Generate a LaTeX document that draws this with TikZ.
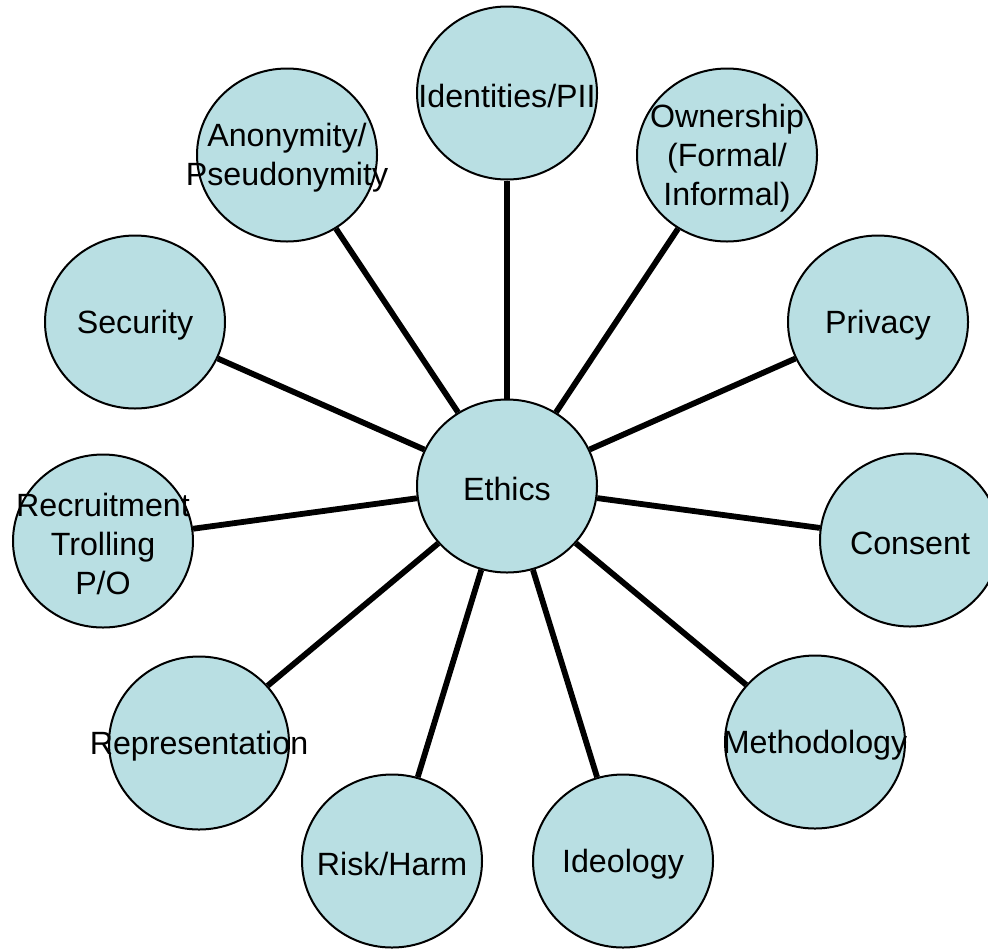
\documentclass[tikz,border=0pt]{standalone}
\usepackage{fontspec}
\setmainfont{Liberation Sans}
\usepackage{tikz}
\usetikzlibrary{shapes}

\definecolor{topicfill}{RGB}{185,223,227}

\begin{document}
\begin{tikzpicture}[x=0.5pt, y=-0.5pt,
		topic/.style={ellipse, draw, line width=1pt, fill=topicfill, minimum width=90pt, minimum height=86.5pt, inner sep=0pt},
		txt/.style={align=center, inner sep=0pt, yshift=-1.5pt, font=\fontsize{16.1}{19.4}\selectfont},
		spoke/.style={line width=2.9pt}]
	\useasboundingbox (0,0) rectangle (988,948);
	% hub
	\node[topic, label={[txt]center:Ethics}] (ethics) at (507,486) {};
	% topics, clockwise from the top
	\node[topic, label={[txt]center:Identities/PII}] (ident) at (507,93) {};
	\node[topic, label={[txt]center:{Ownership\\(Formal/\\Informal)}}] (owner) at (727,155) {};
	\node[topic, label={[txt]center:Privacy}] (priv) at (878,322) {};
	\node[topic, label={[txt]center:Consent}] (consent) at (910,540) {};
	\node[topic, label={[txt]center:Methodology}] (method) at (815,742) {};
	\node[topic, label={[txt]center:Ideology}] (ideo) at (623,861) {};
	\node[topic, label={[txt]center:Risk/Harm}] (risk) at (392,861) {};
	\node[topic, label={[txt]center:Representation}] (repr) at (199,743) {};
	\node[topic, label={[txt]center:{Recruitment\\Trolling\\P/O}}] (recruit) at (103,541) {};
	\node[topic, label={[txt]center:Security}] (sec) at (135,322) {};
	\node[topic, label={[txt]center:{Anonymity/\\Pseudonymity}}] (anon) at (287,155) {};
	% spokes
	\foreach \t in {ident, owner, priv, consent, method, ideo, risk, repr, recruit, sec, anon}
		\draw[spoke] (ethics) -- (\t);
\end{tikzpicture}
\end{document}
